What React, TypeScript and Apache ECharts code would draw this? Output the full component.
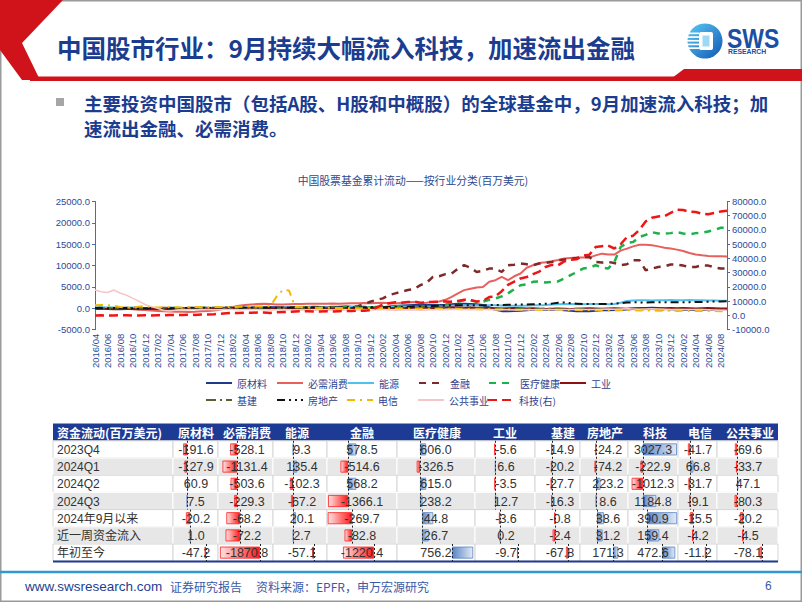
import React, { useEffect, useRef } from "react";
import * as echarts from "echarts";

// ---------- categories (monthly, 2016/04 - 2024/09) ----------
const months: string[] = [];
for (let y = 2016; y <= 2024; y++) {
  for (let m = 1; m <= 12; m++) {
    if ((y === 2016 && m < 4) || (y === 2024 && m > 9)) continue;
    months.push(`${y}/${m < 10 ? "0" + m : m}`);
  }
}

// ---------- series values (百万美元, cumulative) ----------
const materials = [
  -100, -50, 0, -100, -150, -100, -50, -100, -150,
  -100, -50, 0, 50, 0, -50, 0, 50, 100, 50, 0, 50,
  100, 150, 200, 150, 100, 150, 200, 250, 200, 150, 200, 250,
  200, 250, 300, 250, 200, 250, 300, 350, 300, 250, 300, 200,
  300, 200, 400, 500, 600, 650, 700, 750, 700, 700, 750, 800,
  900, 1000, 1000, 950, 900, 700, 200, -300, -600, -630, -550, -500,
  -400, -300, -230, -250, -230, -300, -400, -500, -600, -630, -600, -500,
  -400, -400, -350, -300, -200, -100, -50, 0, 50, 0, -100, -150,
  -200, -250, -300, -350, -300, -250, -300, -300, -320,
];
const staples = [
  100, 150, 100, 50, 0, -100, -200, -300, -400,
  -500, -600, -700, -750, -800, -800, -850, -800, -700, -600, -500, -300,
  0, 300, 600, 770, 900, 1000, 1050, 1000, 900, 900, 950, 1000,
  1000, 1050, 1100, 1050, 1100, 1150, 1100, 1150, 1200, 1200, 1250, 1200,
  1250, 1300, 1200, 1150, 1300, 1400, 1500, 1160, 1300, 1540, 1600, 2000,
  2700, 3500, 4260, 4600, 4890, 5000, 6200, 6590, 7360, 6590, 7500, 8150,
  9500, 10080, 10620, 10800, 11010, 11300, 11640, 11800, 11870, 11900, 11870, 12400,
  12800, 12600, 12570, 13500, 13970, 14500, 14900, 14900, 14740, 14500, 14200, 14000,
  13740, 13400, 12950, 12600, 12400, 12250, 12200, 12180, 12150,
];
const energy = [
  200, 250, 200, 150, 100, 150, 200, 150, 100,
  100, 50, 100, 150, 100, 50, 100, 150, 100, 50, 0, 50,
  100, 150, 100, 50, 100, 150, 200, 150, 100, 150, 200, 250,
  200, 250, 300, 250, 200, 250, 300, 250, 300, 350, 300, 300,
  300, 350, 300, 400, 450, 400, 350, 300, 350, 400, 380, 500,
  600, 650, 700, 650, 700, 750, 700, 720, 650, 620, 600, 620,
  650, 700, 750, 800, 900, 950, 1000, 1000, 950, 980, 1000, 1000,
  1000, 950, 1000, 1300, 1700, 1850, 1900, 1900, 1850, 1900, 1900, 1950,
  1900, 1900, 1950, 1900, 1900, 1850, 1850, 1800, 1800,
];
const financials = [
  0, 50, 0, -50, 0, 50, 100, 50, 0,
  -50, 0, 50, 0, -50, 0, 50, 100, 50, 0, 50, 100,
  150, 100, 50, 100, 150, 200, 150, 100, 150, 200, 250, 200,
  150, 200, 250, 200, 250, 300, 250, 300, 300, 500, 1000, 1540,
  2000, 2330, 3100, 3500, 3900, 4270, 4500, 5430, 6000, 7360, 7500, 8000,
  8150, 9300, 10090, 9500, 8520, 8800, 9300, 9300, 8500, 10090, 10200, 10480,
  10300, 10090, 10480, 10600, 10860, 11250, 11400, 11640, 11800, 12020, 12000, 10860,
  10700, 10860, 10600, 10090, 10300, 11250, 11250, 8920, 9300, 9690, 9800, 10250,
  10250, 10000, 9690, 9690, 10090, 10000, 9600, 9300, 9300,
];
const healthcare = [
  0, 50, 100, 50, 0, -50, 0, 50, 0,
  0, -50, 0, 50, 100, 50, 0, 50, 100, 150, 100, 50,
  100, 150, 100, 50, 100, 150, 100, 50, 0, 50, 100, 150,
  100, 150, 200, 150, 100, 150, 200, 250, 200, 150, 200, 200,
  300, 150, 250, 400, 350, 300, 350, 370, 400, 380, 600, 770,
  1500, 1600, 1900, 1950, 1500, 1550, 2000, 2330, 2800, 3500, 4500, 5400,
  5600, 6200, 6300, 6050, 6200, 6300, 7000, 7750, 8500, 9300, 9500, 10080,
  9600, 9300, 10850, 14340, 15300, 15500, 16680, 17200, 17840, 17500, 17460, 17600,
  17840, 17500, 17300, 17600, 17700, 18000, 18300, 18860, 18800,
];
const industrials = [
  -150, -100, -150, -200, -150, -100, -150, -200, -150,
  -100, -150, -100, -50, -100, -50, 0, 50, 0, -50, 0, 50,
  0, 50, 100, 50, 0, 50, 100, 50, 0, -50, 0, 50,
  0, 50, 100, 50, 0, -50, 0, 50, 100, 50, 0, 50,
  100, 50, 0, 100, 150, 100, 150, 200, 150, 100, 150, 200,
  250, 200, 150, 200, 150, 100, 50, 0, -50, 0, 50, 0,
  -50, 0, -100, -150, -100, -50, -100, -150, -100, -50, 0, -50,
  -100, -50, 0, -50, -100, -50, 0, 50, 0, -50, 0, 50,
  0, 50, 0, -50, 0, 50, 0, -50, -50,
];
const infra = [
  50, 0, -50, 0, 50, 100, 50, 0, -50,
  0, 50, 0, -50, 0, 50, 0, -50, 0, 50, 100, 50,
  0, 50, 0, -50, 0, 50, 0, -50, -100, -50, 0, 50,
  0, -50, 0, 50, 0, -50, 0, 50, 100, 50, 0, 50,
  300, 200, 100, 150, 100, 50, 100, 150, 100, 50, 100, 150,
  100, 50, 0, -50, 0, 50, 0, -50, -100, -50, -100, -150,
  -100, -150, -100, -50, -100, -150, -200, -150, -100, -150, -200, -150,
  -200, -150, -200, -250, -200, -150, -200, -250, -200, -250, -300, -250,
  -300, -250, -300, -350, -300, -350, -300, -350, -350,
];
const realEstate = [
  100, 50, 0, 50, 100, 50, 0, -50, 0,
  50, 0, -50, 0, 50, 100, 50, 0, 50, 100, 50, 0,
  50, 100, 150, 100, 50, 100, 150, 200, 150, 100, 150, 200,
  150, 200, 250, 200, 150, 200, 250, 300, 250, 200, 250, 300,
  300, 250, 300, 350, 300, 350, 400, 450, 500, 550, 600, 650,
  700, 700, 750, 700, 700, 700, 750, 800, 800, 850, 850, 900,
  900, 950, 1000, 1050, 1100, 1300, 1350, 1200, 1100, 1000, 1000, 1050,
  1000, 1050, 1100, 1200, 1350, 1400, 1400, 1350, 1400, 1400, 1450, 1450,
  1400, 1400, 1450, 1500, 1500, 1550, 1600, 1600, 1650,
];
const telecom = [
  700, 800, 750, 600, 300, 200, 150, 400, 500,
  300, 200, 250, 300, 250, 200, 250, 300, 250, 200, 250, 300,
  350, 300, 350, 400, 450, 400, 450, 500, 2700, 4300, 4200, 300,
  250, 200, 150, 100, 150, 100, 50, 100, 50, 0, 50, 100,
  100, 50, 0, -50, 0, -50, -100, -50, -100, -150, -100, -150,
  -100, -150, -200, -150, -200, -250, -200, -250, -300, -250, -300, -350,
  -300, -350, -400, -350, -300, -350, -400, -350, -400, -450, -400, -450,
  -400, -450, -500, -450, -400, -450, -500, -550, -500, -550, -600, -550,
  -600, -550, -600, -650, -600, -650, -650, -700, -700,
];
const utilities = [
  4300, 3900, 3700, 4300, 3600, 3100, 2400, 1700, 900,
  400, 0, -500, -600, -400, -300, -350, -300, -250, -300, -350, -300,
  -250, -300, -350, -300, -250, -300, -350, -400, -350, -300, -350, -400,
  -350, -400, -450, -400, -350, -400, -450, -400, -350, -400, -450, -400,
  -350, -300, -400, -450, -400, -350, -400, -450, -400, -350, -300, -350,
  -300, -250, -300, -350, -300, -250, -300, -350, -300, -350, -400, -350,
  -300, -350, -300, -250, -300, -350, -300, -250, -200, -250, -300, -250,
  -200, -150, -200, -150, -100, -150, -200, -150, -100, -150, -200, -250,
  -300, -250, -300, -250, -300, -350, -400, -450, -450,
];
const tech = [
  0, 100, -100, 0, 200, 100, -100, 0, 100,
  0, 200, 100, 300, 200, 400, 500, 400, 600, 700, 900, 1200,
  1500, 1800, 1700, 2000, 1900, 2100, 2000, 1800, 2200, 2400, 2600, 2800,
  2900, 3000, 2800, 2700, 2900, 2800, 3000, 3100, 3200, 3400, 3300, 3600,
  5500, 7800, 8600, 9300, 9000, 9400, 9700, 9000, 9300, 9500, 9600, 9800,
  9700, 10200, 11000, 10800, 9800, 10200, 13000, 13400, 17000, 21500, 23800, 26000,
  27000, 29000, 30800, 34000, 35500, 35200, 38000, 39000, 39500, 42000, 42600, 48000,
  48600, 49000, 47000, 50000, 55000, 56000, 60000, 66000, 68600, 69500, 69700, 72000,
  74200, 74000, 72800, 72600, 71500, 71100, 72000, 73000, 73500,
];

// ---------- axis ticks ----------
const leftTicks = { min: -5000, max: 25000, interval: 5000 };
const rightTicks = { min: -10000, max: 80000, interval: 10000 };

// ---------- table data ----------
const tableHeaders = ["原材料", "必需消费", "能源", "金融", "医疗健康", "工业", "基建", "房地产", "科技", "电信", "公共事业"];
const rowLabels = ["2023Q4", "2024Q1", "2024Q2", "2024Q3", "2024年9月以来", "近一周资金流入", "年初至今"];
const q4_2023 = [-191.6, -528.1, 9.3, 578.5, 606.0, -5.6, -14.9, -24.2, 3027.3, -41.7, -69.6];
const q1_2024 = [-127.9, -1131.4, 135.4, -514.6, -326.5, 6.6, -20.2, -74.2, -222.9, 66.8, -33.7];
const q2_2024 = [60.9, -503.6, -102.3, 568.2, 615.0, -3.5, -27.7, 223.2, -1012.3, -31.7, 47.1];
const q3_2024 = [7.5, -229.3, -67.2, -1366.1, 238.2, 12.7, -16.3, 8.6, 1184.8, -9.1, -80.3];
const sinceSep = [-20.2, -68.2, 20.1, -269.7, 44.8, -3.6, -0.8, 38.6, 390.9, -15.5, -20.2];
const lastWeek = [1.0, -72.2, 2.7, -82.8, 26.7, 0.2, -2.4, 31.2, 159.4, -4.2, -4.5];
const ytd = [-47.2, -1870.8, -57.1, -1220.4, 756.2, -9.7, -67.8, 171.3, 472.6, -11.2, -78.1];
const tableRows = [q4_2023, q1_2024, q2_2024, q3_2024, sinceSep, lastWeek, ytd];

// ---------- layout (not data) ----------
const CJK = '"Noto Sans CJK SC", sans-serif';
const LAT = '"Liberation Sans", "Noto Sans CJK SC", sans-serif';
const BLUE = "#1B3C8F";
const RED = "#D0121B";
const AXIS_TXT = "#2B4A9A";
const colEdges = [53, 173, 218, 273, 327, 397, 475, 535, 580, 628, 678, 717, 778];
const textCenters = [196, 247, 302, 362, 436, 506, 560, 608, 653, 698, 748];
const headerCenters = [196, 247, 297, 362, 437, 505, 563, 605, 655, 700, 750];
const rowTop0 = 440.8;
const rowH = 17.2;
const groups = [
  { rows: [0, 1, 2, 3], axis: [187, 237, 293, 348, 420, 495, 552, 596, 643, 690, 737], ppu: [0.02, 0.0128, 0.03, 0.0146, 0.01, 0.1, 0.05, 0.02, 0.0112, 0.05, 0.03] },
  { rows: [4, 5], axis: [190, 240, 293, 352, 422, 500, 555, 597, 647, 693, 743], ppu: [0.2, 0.2, 0.15, 0.09, 0.25, 0.3, 1, 0.18, 0.077, 0.2, 0.15] },
  { rows: [6], axis: [206, 260, 314, 374, 452, 518, 568, 613, 662, 706, 762], ppu: [0.03, 0.0214, 0.03, 0.0254, 0.028, 0.1, 0.03, 0.03, 0.028, 0.1, 0.03] },
];

const lineDefs = [
  { name: "原材料", data: materials, color: "#1F3A8A", width: 2.5, type: "solid" as any, axis: 0 },
  { name: "必需消费", data: staples, color: "#E8605C", width: 2, type: "solid" as any, axis: 0 },
  { name: "能源", data: energy, color: "#4FC1EF", width: 2, type: "solid" as any, axis: 0 },
  { name: "金融", data: financials, color: "#7F2A2A", width: 2.5, type: [7, 6] as any, axis: 0 },
  { name: "医疗健康", data: healthcare, color: "#1CB24B", width: 2.5, type: [7, 6] as any, axis: 0 },
  { name: "工业", data: industrials, color: "#8E1010", width: 2, type: "solid" as any, axis: 0 },
  { name: "基建", data: infra, color: "#57612E", width: 2, type: [10, 4, 2, 4] as any, axis: 0 },
  { name: "房地产", data: realEstate, color: "#111111", width: 2, type: [8, 4, 2, 4, 2, 4] as any, axis: 0 },
  { name: "电信", data: telecom, color: "#F5B800", width: 2, type: [8, 5, 2, 5] as any, axis: 0 },
  { name: "公共事业", data: utilities, color: "#F6C5C5", width: 1.5, type: "solid" as any, axis: 0 },
  { name: "科技(右)", data: tech, color: "#F01515", width: 2.5, type: [9, 5] as any, axis: 1 },
];
const legendPos = [
  [205, 378], [276, 378], [347, 378], [418, 378], [488, 378], [559, 378],
  [205, 395], [276, 395], [346, 395], [417, 395], [487, 395],
];

function txt(text: string, x: number, y: number, o: any = {}) {
  return {
    type: "text",
    z: o.z ?? 50,
    silent: true,
    x: o.ex,
    y: o.ey,
    scaleX: o.scaleX,
    style: {
      text,
      x: o.ex !== undefined ? 0 : x,
      y: o.ey !== undefined ? 0 : y,
      fill: o.color ?? "#333",
      fontSize: o.size ?? 12,
      fontFamily: o.font ?? CJK,
      fontWeight: o.weight ?? "normal",
      align: o.align ?? "left",
      textAlign: o.align ?? "left",
      verticalAlign: "middle",
      textVerticalAlign: "middle",
    },
  };
}

function buildOption() {
  const grid: any[] = [{ left: 95, top: 201.5, width: 632, height: 128.2 }];
  const xAxis: any[] = [
    {
      type: "category",
      gridIndex: 0,
      data: months,
      boundaryGap: false,
      axisLine: { show: false },
      axisTick: { show: false },
      splitLine: { show: false },
      axisLabel: { rotate: 90, interval: 1, fontSize: 9.5, color: AXIS_TXT, margin: 4, fontFamily: LAT },
    },
  ];
  const valueAxisCommon = (pos: string, t: any) => ({
    type: "value",
    gridIndex: 0,
    position: pos,
    min: t.min,
    max: t.max,
    interval: t.interval,
    axisLine: { show: true, lineStyle: { color: "#4A6CB8", width: 1 } },
    axisTick: { show: true, length: 3, lineStyle: { color: "#4A6CB8" } },
    splitLine: { show: false },
    axisLabel: { formatter: (v: number) => v.toFixed(1), fontSize: 9.5, color: AXIS_TXT, margin: 5, fontFamily: LAT },
  });
  const yAxis: any[] = [valueAxisCommon("left", leftTicks), valueAxisCommon("right", rightTicks)];

  const series: any[] = lineDefs.map((d) => ({
    name: d.name,
    type: "line",
    xAxisIndex: 0,
    yAxisIndex: d.axis,
    data: d.data,
    symbol: "none",
    lineStyle: { color: d.color, width: d.width, type: d.type },
    itemStyle: { color: d.color },
    z: 3,
  }));

  const legend: any[] = lineDefs.map((d, i) => ({
    data: [d.name],
    left: legendPos[i][0],
    top: legendPos[i][1],
    padding: 0,
    itemWidth: 26,
    itemHeight: 10,
    selectedMode: false,
    itemStyle: { opacity: 0, color: "rgba(0,0,0,0)", borderWidth: 0 },
    lineStyle: { width: 2 },
    textStyle: { fontSize: 10, color: "#2F3F8F", fontFamily: CJK },
  }));

  // table data bars: one small grid per column / row group
  const negGrad = () =>
    new echarts.graphic.LinearGradient(0, 0, 1, 0, [
      { offset: 0, color: "#FFE3E3" },
      { offset: 1, color: "#FF1A1A" },
    ]);
  const posGrad = () =>
    new echarts.graphic.LinearGradient(0, 0, 1, 0, [
      { offset: 0, color: "#5A85C4" },
      { offset: 1, color: "#E3EAF5" },
    ]);
  for (let c = 0; c < tableHeaders.length; c++) {
    groups.forEach((g) => {
      const left = colEdges[c + 1];
      const right = colEdges[c + 2];
      const ax = g.axis[c];
      const ppu = g.ppu[c];
      const gi = grid.length;
      grid.push({ left, top: rowTop0 + g.rows[0] * rowH, width: right - left, height: g.rows.length * rowH });
      xAxis.push({ type: "value", gridIndex: gi, min: -(ax - left) / ppu, max: (right - ax) / ppu, show: false });
      yAxis.push({ type: "category", gridIndex: gi, inverse: true, data: g.rows.map((r) => rowLabels[r]), show: false });
      series.push({
        type: "bar",
        xAxisIndex: xAxis.length - 1,
        yAxisIndex: yAxis.length - 1,
        barWidth: 12,
        silent: true,
        z: 4,
        data: g.rows.map((r) => {
          const v = tableRows[r][c];
          return {
            value: v,
            itemStyle: {
              color: v < 0 ? negGrad() : posGrad(),
              borderColor: v < 0 ? "#FF2020" : "#5A85C4",
              borderWidth: 0.8,
            },
          };
        }),
        markLine: {
          silent: true,
          symbol: "none",
          label: { show: false },
          lineStyle: { color: "#222", type: [2, 2], width: 1 },
          data: [{ xAxis: 0 }],
        },
      });
    });
  }

  // ---------- graphics ----------
  const graphic: any[] = [];
  graphic.push({ type: "rect", z: 1, silent: true, shape: { x: 0.75, y: 0.75, width: 800.5, height: 600.5 }, style: { fill: "none", stroke: "#9A9A9A", lineWidth: 1.5 } });
  graphic.push({ type: "polygon", z: 2, silent: true, shape: { points: [[0, 0], [63, 0], [22, 43], [40, 80], [22, 80], [0, 50]] }, style: { fill: RED } });
  graphic.push({ type: "rect", z: 2, silent: true, shape: { x: 30, y: 76.5, width: 772, height: 4.5 }, style: { fill: RED } });
  graphic.push({ type: "polygon", z: 2, silent: true, shape: { points: [[668, 81], [684, 69], [802, 69], [802, 81]] }, style: { fill: RED } });
  graphic.push(txt("中国股市行业：9月持续大幅流入科技，加速流出金融", 57, 47, { size: 24.5, weight: "bold", color: BLUE }));
  graphic.push({
    type: "circle", z: 2, silent: true, shape: { cx: 705, cy: 41, r: 17.5 },
    style: { fill: new echarts.graphic.LinearGradient(0, 0, 1, 1, [{ offset: 0, color: "#58CBF6" }, { offset: 1, color: "#1356B6" }]) },
  });
  for (let k = 0; k < 5; k++) {
    graphic.push({ type: "rect", z: 3, silent: true, shape: { x: 687, y: 32.5 + k * 3.7, width: 12, height: 1.7 }, style: { fill: "#FFFFFF" } });
  }
  graphic.push({ type: "rect", z: 3, silent: true, shape: { x: 699, y: 32, width: 14, height: 18, r: 2 }, style: { fill: "#FFFFFF" } });
  graphic.push({ type: "rect", z: 4, silent: true, shape: { x: 702.5, y: 35.5, width: 7, height: 11 }, style: { fill: "#9ED8F5" } });
  graphic.push(txt("SWS", 0, 0, { ex: 727, ey: 38.5, scaleX: 0.85, size: 27, weight: "bold", color: "#1B4FA3", font: LAT }));
  graphic.push(txt("RESEARCH", 728, 51.5, { size: 6.8, weight: "bold", color: "#1B4FA3", font: LAT }));
  graphic.push({ type: "rect", z: 2, silent: true, shape: { x: 56, y: 98, width: 8, height: 8 }, style: { fill: "#A6A6A6" } });
  graphic.push(txt("主要投资中国股市（包括A股、H股和中概股）的全球基金中，9月加速流入科技；加", 84, 103, { size: 18.5, weight: "bold", color: BLUE }));
  graphic.push(txt("速流出金融、必需消费。", 84, 128, { size: 18.5, weight: "bold", color: BLUE }));
  graphic.push(txt("中国股票基金累计流动——按行业分类(百万美元)", 413, 180, { size: 10.8, color: "#2E4A8E", align: "center" }));

  graphic.push({ type: "rect", z: 1, silent: true, shape: { x: 53, y: 423.4, width: 725, height: 17.4 }, style: { fill: "#1D3A94" } });
  graphic.push(txt("资金流动(百万美元)", 57, 432.2, { size: 12, weight: "bold", color: "#FFFFFF" }));
  tableHeaders.forEach((h, c) => graphic.push(txt(h, headerCenters[c], 432.2, { size: 12, weight: "bold", color: "#FFFFFF", align: "center" })));
  rowLabels.forEach((lab, r) => {
    const y = rowTop0 + r * rowH;
    const grey = r % 2 === 1;
    for (let c = 0; c < colEdges.length - 1; c++) {
      graphic.push({
        type: "rect", z: 1, silent: true,
        shape: { x: colEdges[c], y, width: colEdges[c + 1] - colEdges[c], height: rowH },
        style: { fill: grey ? "#E7E7E7" : "#FFFFFF", stroke: grey ? "#FFFFFF" : "#D6D6D6", lineWidth: 1 },
      });
    }
    graphic.push(txt(lab, 57, y + rowH / 2 + 0.5, { size: 12, color: "#333", font: LAT }));
    tableRows[r].forEach((v, c) =>
      graphic.push(txt(v.toFixed(1), textCenters[c], y + rowH / 2 + 0.5, { size: 12.5, color: "#333", font: LAT, align: "center" }))
    );
  });
  graphic.push({ type: "line", z: 5, silent: true, shape: { x1: 53, y1: 561.6, x2: 778, y2: 561.6 }, style: { stroke: "#1D3A94", lineWidth: 2 } });

  graphic.push({ type: "line", z: 2, silent: true, shape: { x1: 0, y1: 572, x2: 802, y2: 572 }, style: { stroke: "#2E9AD0", lineWidth: 2.5 } });
  graphic.push(txt("www.swsresearch.com", 25, 586, { size: 13.5, color: "#1F3E8F", font: LAT }));
  graphic.push(txt("证券研究报告", 170, 586, { size: 12, color: "#3A5AA8" }));
  graphic.push(txt("资料来源：EPFR，申万宏源研究", 256, 586, { size: 12, color: "#3A5AA8" }));
  graphic.push(txt("6", 765, 586, { size: 12, color: "#3A5AA8", font: LAT }));

  return {
    animation: false,
    backgroundColor: "#FFFFFF",
    grid,
    xAxis,
    yAxis,
    legend,
    series,
    graphic: { elements: graphic },
  };
}

export default function App() {
  const ref = useRef<HTMLDivElement>(null);
  useEffect(() => {
    if (!ref.current) return;
    const chart = echarts.init(ref.current, undefined, { renderer: "svg", width: 802, height: 602 });
    chart.setOption(buildOption() as any);
    return () => chart.dispose();
  }, []);
  return <div ref={ref} style={{ position: "fixed", left: 0, top: 0, width: 802, height: 602 }} />;
}
